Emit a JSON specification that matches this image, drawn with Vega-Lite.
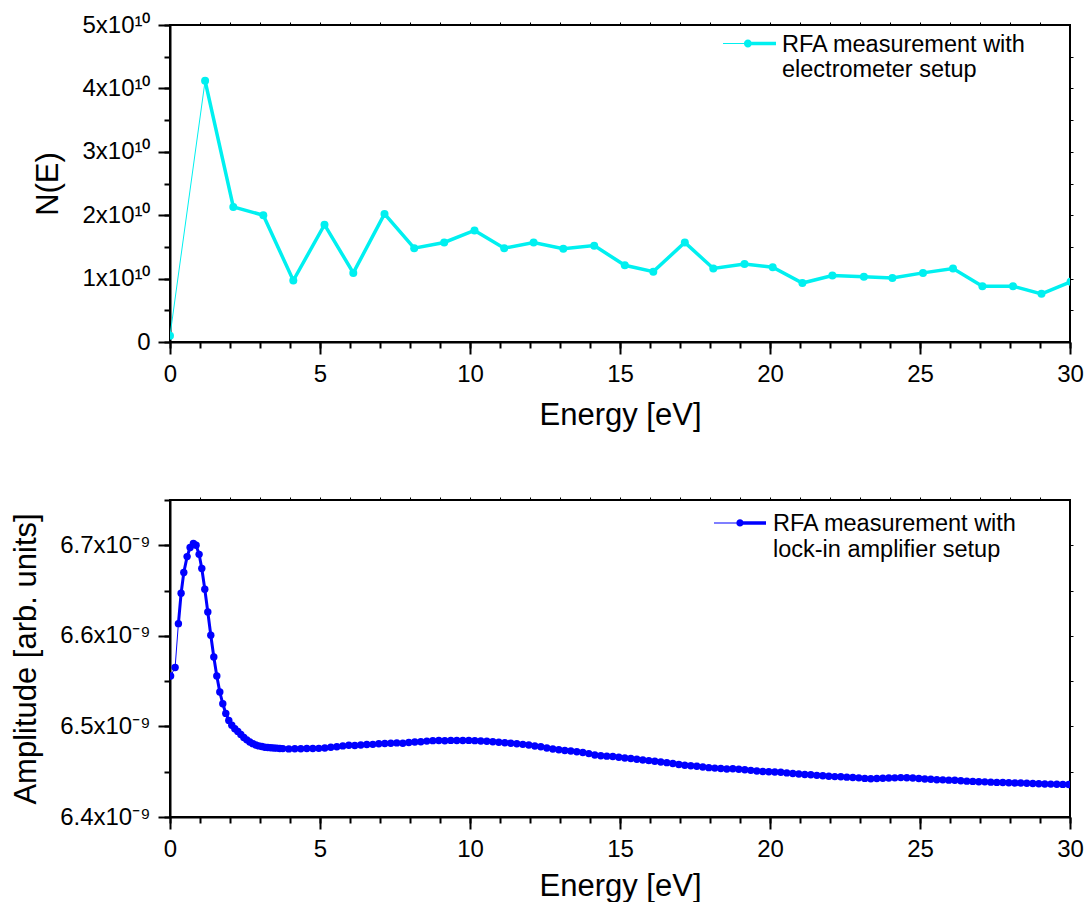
{
  "$schema": "https://vega.github.io/schema/vega-lite/v6.json",
  "padding": {"left": 8, "top": 12, "right": 8, "bottom": 0},
  "background": "white",
  "spacing": 158,
  "bounds": "flush",
  "resolve": {"scale": {"x": "independent", "y": "independent", "color": "independent"}},
  "config": {
    "font": "Liberation Sans",
    "view": {"stroke": "black", "strokeWidth": 2},
    "axis": {"grid": false, "domainColor": "black", "domainWidth": 2, "tickColor": "black", "tickWidth": 2, "labelColor": "black", "labelFontSize": 24, "titleColor": "black", "titleFontSize": 31, "titleFontWeight": "normal", "labelFlush": false, "labelOverlap": false, "labelBound": false},
    "legend": {"labelFontSize": 23.5, "labelColor": "black", "labelLimit": 500}
  },
  "vconcat": [
    {
      "width": 900,
      "height": 317,
      "data": {"values": [
        {"E": 0, "N": 0.1e10}, {"E": 1.17, "N": 4.12e10}, {"E": 2.11, "N": 2.13e10}, {"E": 3.11, "N": 2.0e10},
        {"E": 4.11, "N": 0.97e10}, {"E": 5.15, "N": 1.85e10}, {"E": 6.11, "N": 1.09e10}, {"E": 7.15, "N": 2.02e10},
        {"E": 8.14, "N": 1.48e10}, {"E": 9.14, "N": 1.57e10}, {"E": 10.15, "N": 1.76e10}, {"E": 11.14, "N": 1.48e10},
        {"E": 12.12, "N": 1.57e10}, {"E": 13.11, "N": 1.47e10}, {"E": 14.14, "N": 1.52e10}, {"E": 15.16, "N": 1.21e10},
        {"E": 16.11, "N": 1.11e10}, {"E": 17.16, "N": 1.57e10}, {"E": 18.11, "N": 1.16e10}, {"E": 19.15, "N": 1.23e10},
        {"E": 20.09, "N": 1.18e10}, {"E": 21.08, "N": 0.93e10}, {"E": 22.08, "N": 1.05e10}, {"E": 23.13, "N": 1.03e10},
        {"E": 24.08, "N": 1.01e10}, {"E": 25.1, "N": 1.09e10}, {"E": 26.1, "N": 1.16e10}, {"E": 27.08, "N": 0.88e10},
        {"E": 28.1, "N": 0.88e10}, {"E": 29.05, "N": 0.76e10}, {"E": 30.02, "N": 0.95e10}
      ]},
      "layer": [
        {
          "mark": {"type": "line", "color": "#00F0F0", "strokeWidth": 1, "clip": true},
          "encoding": {
            "x": {"field": "E", "type": "quantitative", "scale": {"domain": [0, 30], "nice": false},
              "axis": {"orient": "bottom", "values": [0, 5, 10, 15, 20, 25, 30], "tickSize": 12, "labelPadding": 8, "format": "d", "title": "Energy [eV]", "titleY": 73, "titleBaseline": "middle"}},
            "y": {"field": "N", "type": "quantitative", "scale": {"domain": [0, 5e10], "nice": false, "zero": false},
              "axis": {"orient": "left", "values": [0, 1e10, 2e10, 3e10, 4e10, 5e10], "tickSize": 12, "labelPadding": 8, "labelExpr": "datum.value == 0 ? '0' : format(datum.value/1e10, 'd') + 'x10¹⁰'", "title": "N(E)", "titleX": -122, "titleBaseline": "middle"}}
          }
        },
        {
          "transform": [{"filter": "datum.E >= 1"}],
          "mark": {"type": "line", "color": "#00F0F0", "strokeWidth": 3.5, "clip": true},
          "encoding": {
            "x": {"field": "E", "type": "quantitative",
              "axis": {"orient": "bottom", "values": [0,1,2,3,4,5,6,7,8,9,10,11,12,13,14,15,16,17,18,19,20,21,22,23,24,25,26,27,28,29,30], "tickSize": 6, "labels": false, "domain": false, "title": null}},
            "y": {"field": "N", "type": "quantitative",
              "axis": {"orient": "left", "values": [0, 0.5e10, 1e10, 1.5e10, 2e10, 2.5e10, 3e10, 3.5e10, 4e10, 4.5e10, 5e10], "tickSize": 6, "labels": false, "domain": false, "title": null}}
          }
        },
        {
          "mark": {"type": "point", "filled": true, "size": 64, "opacity": 1, "clip": true},
          "encoding": {
            "x": {"field": "E", "type": "quantitative",
              "axis": {"orient": "top", "values": [1,2,3,4,5,6,7,8,9,10,11,12,13,14,15,16,17,18,19,20,21,22,23,24,25,26,27,28,29], "tickSize": 3, "tickWidth": 1, "labels": false, "domain": false, "title": null}},
            "y": {"field": "N", "type": "quantitative",
              "axis": {"orient": "right", "values": [0.5e10, 1e10, 1.5e10, 2e10, 2.5e10, 3e10, 3.5e10, 4e10, 4.5e10], "tickSize": 3, "tickWidth": 1, "labels": false, "domain": false, "title": null}},
            "color": {"datum": "RFA measurement with|electrometer setup", "scale": {"range": ["#00F0F0"]},
              "legend": {"orient": "none", "legendX": 553, "legendY": -7, "padding": 0, "title": null, "labelOffset": 6,
                "labelExpr": "split(datum.label, '|')",
                "symbolType": "M-1,-0.059L-0.06,-0.059L-0.06,-0.021L-1,-0.021Z M-0.06,-0.106L1,-0.106L1,0.026L-0.06,0.026Z M-0.211,-0.04A0.151,0.151,0,1,1,0.091,-0.04A0.151,0.151,0,1,1,-0.211,-0.04Z",
                "symbolSize": 2809, "symbolStrokeWidth": 0, "symbolOpacity": 1,
                "encode": {"labels": {"lineHeight": {"value": 29}}}}}
          }
        }
      ],
      "resolve": {"axis": {"x": "independent", "y": "independent"}}
    },
    {
      "width": 900,
      "height": 317,
      "data": {"values": [
        {"E": 0.02, "A": 6.5556e-9}, {"E": 0.17, "A": 6.565e-9}, {"E": 0.28, "A": 6.6135e-9}, {"E": 0.37, "A": 6.647e-9},
        {"E": 0.46, "A": 6.670e-9}, {"E": 0.57, "A": 6.6875e-9}, {"E": 0.67, "A": 6.6975e-9}, {"E": 0.78, "A": 6.702e-9},
        {"E": 0.87, "A": 6.700e-9}, {"E": 0.97, "A": 6.690e-9}, {"E": 1.06, "A": 6.6743e-9}, {"E": 1.16, "A": 6.6514e-9},
        {"E": 1.26, "A": 6.6263e-9}, {"E": 1.36, "A": 6.6006e-9}, {"E": 1.46, "A": 6.5766e-9}, {"E": 1.56, "A": 6.5556e-9},
        {"E": 1.66, "A": 6.538e-9}, {"E": 1.76, "A": 6.525e-9}, {"E": 1.86, "A": 6.5144e-9}, {"E": 1.96, "A": 6.5066e-9},
        {"E": 2.06, "A": 6.5013e-9}, {"E": 2.16, "A": 6.4975e-9}, {"E": 2.26, "A": 6.4945e-9}, {"E": 2.36, "A": 6.491e-9},
        {"E": 2.46, "A": 6.4878e-9}, {"E": 2.56, "A": 6.4852e-9}, {"E": 2.66, "A": 6.4828e-9}, {"E": 2.76, "A": 6.481e-9},
        {"E": 2.86, "A": 6.4795e-9}, {"E": 2.96, "A": 6.4785e-9}, {"E": 3.06, "A": 6.4778e-9}, {"E": 3.16, "A": 6.477e-9},
        {"E": 3.26, "A": 6.4768e-9}, {"E": 3.36, "A": 6.4765e-9}, {"E": 3.46, "A": 6.4762e-9}, {"E": 3.56, "A": 6.476e-9},
        {"E": 3.66, "A": 6.4757e-9}, {"E": 3.76, "A": 6.4755e-9}, {"E": 3.96, "A": 6.4752e-9}, {"E": 4.16, "A": 6.4754e-9},
        {"E": 4.36, "A": 6.4753e-9}, {"E": 4.56, "A": 6.4756e-9}, {"E": 4.76, "A": 6.4757e-9}, {"E": 4.96, "A": 6.4758e-9},
        {"E": 5.16, "A": 6.4762e-9}, {"E": 5.36, "A": 6.477e-9}, {"E": 5.56, "A": 6.4776e-9}, {"E": 5.76, "A": 6.4785e-9},
        {"E": 5.96, "A": 6.4793e-9}, {"E": 6.16, "A": 6.479e-9}, {"E": 6.36, "A": 6.4795e-9}, {"E": 6.56, "A": 6.48e-9},
        {"E": 6.76, "A": 6.4802e-9}, {"E": 6.96, "A": 6.4808e-9}, {"E": 7.16, "A": 6.4812e-9}, {"E": 7.36, "A": 6.4815e-9},
        {"E": 7.56, "A": 6.4818e-9}, {"E": 7.76, "A": 6.4815e-9}, {"E": 7.96, "A": 6.4822e-9}, {"E": 8.16, "A": 6.4828e-9},
        {"E": 8.36, "A": 6.483e-9}, {"E": 8.56, "A": 6.4838e-9}, {"E": 8.76, "A": 6.4843e-9}, {"E": 8.96, "A": 6.4845e-9},
        {"E": 9.16, "A": 6.4842e-9}, {"E": 9.36, "A": 6.4846e-9}, {"E": 9.56, "A": 6.4845e-9}, {"E": 9.76, "A": 6.4844e-9},
        {"E": 9.96, "A": 6.4846e-9}, {"E": 10.16, "A": 6.4843e-9}, {"E": 10.36, "A": 6.484e-9}, {"E": 10.56, "A": 6.4836e-9},
        {"E": 10.76, "A": 6.483e-9}, {"E": 10.96, "A": 6.4826e-9}, {"E": 11.16, "A": 6.482e-9}, {"E": 11.36, "A": 6.4815e-9},
        {"E": 11.56, "A": 6.4808e-9}, {"E": 11.76, "A": 6.4802e-9}, {"E": 11.96, "A": 6.4795e-9}, {"E": 12.16, "A": 6.4784e-9},
        {"E": 12.36, "A": 6.4775e-9}, {"E": 12.56, "A": 6.4762e-9}, {"E": 12.76, "A": 6.475e-9}, {"E": 12.96, "A": 6.4742e-9},
        {"E": 13.16, "A": 6.4735e-9}, {"E": 13.36, "A": 6.4728e-9}, {"E": 13.56, "A": 6.472e-9}, {"E": 13.76, "A": 6.4712e-9},
        {"E": 13.96, "A": 6.47e-9}, {"E": 14.16, "A": 6.4685e-9}, {"E": 14.36, "A": 6.4676e-9}, {"E": 14.56, "A": 6.4672e-9},
        {"E": 14.76, "A": 6.4668e-9}, {"E": 14.96, "A": 6.466e-9}, {"E": 15.16, "A": 6.4652e-9}, {"E": 15.36, "A": 6.4645e-9},
        {"E": 15.56, "A": 6.4638e-9}, {"E": 15.76, "A": 6.463e-9}, {"E": 15.96, "A": 6.4622e-9}, {"E": 16.16, "A": 6.4615e-9},
        {"E": 16.36, "A": 6.4608e-9}, {"E": 16.56, "A": 6.46e-9}, {"E": 16.76, "A": 6.459e-9}, {"E": 16.96, "A": 6.458e-9},
        {"E": 17.16, "A": 6.4572e-9}, {"E": 17.36, "A": 6.4565e-9}, {"E": 17.56, "A": 6.456e-9}, {"E": 17.76, "A": 6.4552e-9},
        {"E": 17.96, "A": 6.4545e-9}, {"E": 18.16, "A": 6.454e-9}, {"E": 18.36, "A": 6.4535e-9}, {"E": 18.56, "A": 6.453e-9},
        {"E": 18.76, "A": 6.4532e-9}, {"E": 18.96, "A": 6.4528e-9}, {"E": 19.16, "A": 6.4522e-9}, {"E": 19.36, "A": 6.4515e-9},
        {"E": 19.56, "A": 6.4508e-9}, {"E": 19.76, "A": 6.4503e-9}, {"E": 19.96, "A": 6.4499e-9}, {"E": 20.16, "A": 6.4497e-9},
        {"E": 20.36, "A": 6.4494e-9}, {"E": 20.56, "A": 6.4487e-9}, {"E": 20.76, "A": 6.448e-9}, {"E": 20.96, "A": 6.4475e-9},
        {"E": 21.16, "A": 6.447e-9}, {"E": 21.36, "A": 6.4466e-9}, {"E": 21.56, "A": 6.446e-9}, {"E": 21.76, "A": 6.4455e-9},
        {"E": 21.96, "A": 6.445e-9}, {"E": 22.16, "A": 6.4446e-9}, {"E": 22.36, "A": 6.4444e-9}, {"E": 22.56, "A": 6.444e-9},
        {"E": 22.76, "A": 6.4436e-9}, {"E": 22.96, "A": 6.4432e-9}, {"E": 23.16, "A": 6.4426e-9}, {"E": 23.36, "A": 6.4422e-9},
        {"E": 23.56, "A": 6.4425e-9}, {"E": 23.76, "A": 6.4428e-9}, {"E": 23.96, "A": 6.443e-9}, {"E": 24.16, "A": 6.4432e-9},
        {"E": 24.36, "A": 6.4435e-9}, {"E": 24.56, "A": 6.4433e-9}, {"E": 24.76, "A": 6.443e-9}, {"E": 24.96, "A": 6.4425e-9},
        {"E": 25.16, "A": 6.442e-9}, {"E": 25.36, "A": 6.4416e-9}, {"E": 25.56, "A": 6.4412e-9}, {"E": 25.76, "A": 6.441e-9},
        {"E": 25.96, "A": 6.4407e-9}, {"E": 26.16, "A": 6.4405e-9}, {"E": 26.36, "A": 6.44e-9}, {"E": 26.56, "A": 6.4396e-9},
        {"E": 26.76, "A": 6.4393e-9}, {"E": 26.96, "A": 6.439e-9}, {"E": 27.16, "A": 6.4388e-9}, {"E": 27.36, "A": 6.4385e-9},
        {"E": 27.56, "A": 6.4382e-9}, {"E": 27.76, "A": 6.438e-9}, {"E": 27.96, "A": 6.4378e-9}, {"E": 28.16, "A": 6.4376e-9},
        {"E": 28.36, "A": 6.4375e-9}, {"E": 28.56, "A": 6.4372e-9}, {"E": 28.76, "A": 6.437e-9}, {"E": 28.96, "A": 6.4368e-9},
        {"E": 29.16, "A": 6.4365e-9}, {"E": 29.36, "A": 6.4363e-9}, {"E": 29.56, "A": 6.4361e-9}, {"E": 29.76, "A": 6.436e-9},
        {"E": 29.96, "A": 6.4359e-9}
      ]},
      "layer": [
        {
          "mark": {"type": "line", "color": "#0000FF", "strokeWidth": 1, "clip": true},
          "encoding": {
            "x": {"field": "E", "type": "quantitative", "scale": {"domain": [0, 30], "nice": false},
              "axis": {"orient": "bottom", "values": [0, 5, 10, 15, 20, 25, 30], "tickSize": 12, "labelPadding": 8, "format": "d", "title": "Energy [eV]", "titleY": 69, "titleBaseline": "middle"}},
            "y": {"field": "A", "type": "quantitative", "scale": {"domain": [6.4e-9, 6.75e-9], "nice": false, "zero": false},
              "axis": {"orient": "left", "values": [6.4e-9, 6.5e-9, 6.6e-9, 6.7e-9], "tickSize": 12, "labelPadding": 8, "labelExpr": "format(datum.value*1e9, '.1f') + 'x10⁻⁹'", "title": "Amplitude [arb. units]", "titleX": -144, "titleBaseline": "middle"}}
          }
        },
        {
          "transform": [{"filter": "datum.E >= 0.25"}],
          "mark": {"type": "line", "color": "#0000FF", "strokeWidth": 3, "clip": true},
          "encoding": {
            "x": {"field": "E", "type": "quantitative",
              "axis": {"orient": "bottom", "values": [0,1,2,3,4,5,6,7,8,9,10,11,12,13,14,15,16,17,18,19,20,21,22,23,24,25,26,27,28,29,30], "tickSize": 6, "labels": false, "domain": false, "title": null}},
            "y": {"field": "A", "type": "quantitative",
              "axis": {"orient": "left", "values": [6.4e-9, 6.45e-9, 6.5e-9, 6.55e-9, 6.6e-9, 6.65e-9, 6.7e-9, 6.75e-9], "tickSize": 6, "labels": false, "domain": false, "title": null}}
          }
        },
        {
          "mark": {"type": "point", "filled": true, "size": 55, "opacity": 1, "clip": true},
          "encoding": {
            "x": {"field": "E", "type": "quantitative",
              "axis": {"orient": "top", "values": [1,2,3,4,5,6,7,8,9,10,11,12,13,14,15,16,17,18,19,20,21,22,23,24,25,26,27,28,29], "tickSize": 3, "tickWidth": 1, "labels": false, "domain": false, "title": null}},
            "y": {"field": "A", "type": "quantitative",
              "axis": {"orient": "right", "values": [6.45e-9, 6.5e-9, 6.55e-9, 6.6e-9, 6.65e-9, 6.7e-9], "tickSize": 3, "tickWidth": 1, "labels": false, "domain": false, "title": null}},
            "color": {"datum": "RFA measurement with|lock-in amplifier setup", "scale": {"range": ["#0000FF"]},
              "legend": {"orient": "none", "legendX": 544, "legendY": -2, "padding": 0, "title": null, "labelOffset": 7,
                "labelExpr": "split(datum.label, '|')",
                "symbolType": "M-1,-0.059L0,-0.059L0,-0.021L-1,-0.021Z M0,-0.107L1,-0.107L1,0.027L0,0.027Z M-0.14,-0.04A0.14,0.14,0,1,1,0.14,-0.04A0.14,0.14,0,1,1,-0.14,-0.04Z",
                "symbolSize": 2704, "symbolStrokeWidth": 0, "symbolOpacity": 1,
                "encode": {"labels": {"lineHeight": {"value": 29}}}}}
          }
        }
      ],
      "resolve": {"axis": {"x": "independent", "y": "independent"}}
    }
  ]
}
